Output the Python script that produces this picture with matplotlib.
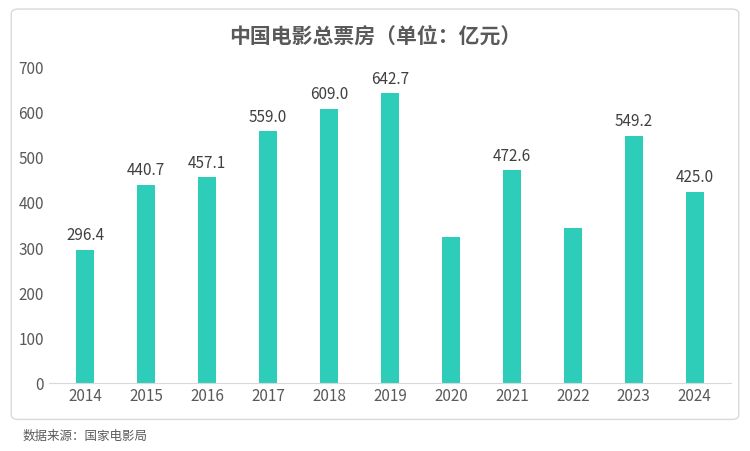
import matplotlib
matplotlib.use("Agg")
import matplotlib.pyplot as plt
from matplotlib.patches import FancyBboxPatch

plt.rcParams["font.family"] = ["Noto Sans CJK SC"]

years = ["2014","2015","2016","2017","2018","2019","2020","2021","2022","2023","2024"]
values = [296.4, 440.7, 457.1, 559.0, 609.0, 642.7, 325.0, 472.6, 345.0, 549.2, 425.0]
labels = ["296.4","440.7","457.1","559.0","609.0","642.7","","472.6","","549.2","425.0"]
yticks = [0,100,200,300,400,500,600,700]

fig = plt.figure(figsize=(7.5,4.51), dpi=100)
box = FancyBboxPatch((0.015,0.07),0.97,0.91, boxstyle="round,pad=0,rounding_size=0.01",
    transform=fig.transFigure, fc="white", ec="#d9d9d9", lw=1, zorder=-10)
fig.patches.append(box)
ax = fig.add_axes([0.065,0.15,0.91,0.70])
ax.set_zorder(5)
ax.patch.set_alpha(0)
x = range(len(years))
ax.bar(x, values, width=0.3, color="#2ECDBA")
for i,(v,l) in enumerate(zip(values,labels)):
    if l:
        ax.text(i, v+12, l, ha="center", va="bottom", fontsize=11, color="#404040")
ax.set_xticks(list(x)); ax.set_xticklabels(years)
ax.set_yticks(yticks)
ax.set_ylim(0,700); ax.set_xlim(-0.6,10.6)
ax.tick_params(length=0, labelsize=11, colors="#595959")
for s in ["top","right","left"]:
    ax.spines[s].set_visible(False)
ax.spines["bottom"].set_color("#d9d9d9")
fig.text(0.5,0.905,"中国电影总票房（单位：亿元）", ha="center", fontsize=15, fontweight="bold", color="#595959")
fig.text(0.03,0.025,"数据来源：国家电影局", fontsize=9, style="italic", color="#595959")
fig.savefig("out.png", dpi=100)
